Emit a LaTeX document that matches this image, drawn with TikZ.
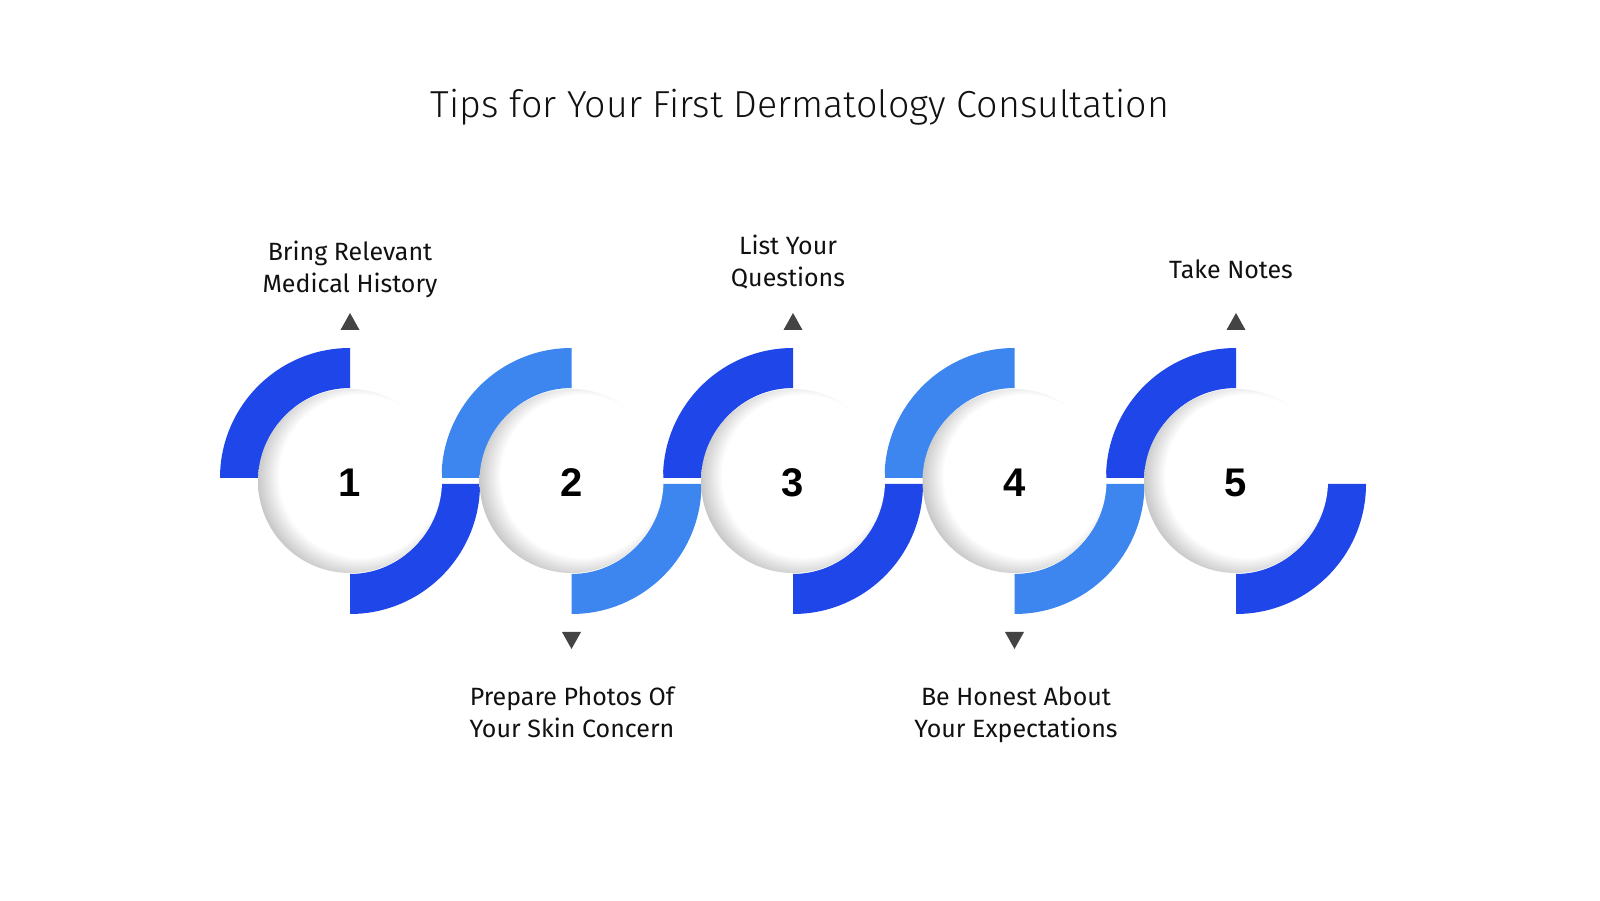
\documentclass[tikz,border=0pt]{standalone}
\usepackage{fontspec}
\setmainfont{Fira Sans}
\newfontfamily\titlefont{Fira Sans Light}
\newfontfamily\numfont{Liberation Sans}
\definecolor{dblue}{HTML}{1F46E8}
\definecolor{lblue}{HTML}{3D86F0}
\definecolor{trigray}{HTML}{444444}
\definecolor{ink}{HTML}{111111}
\pgfdeclareradialshading{diskshade}{\pgfpoint{5bp}{2.5bp}}{color(0bp)=(white); color(22bp)=(white); color(28bp)=(black!24); color(50bp)=(black!24)}
\begin{document}
\begin{tikzpicture}[x=0.5pt,y=0.5pt,
  disk/.style={circle, shading=diskshade, minimum size=92pt, inner sep=0pt,
    text height=16pt, text depth=0pt,
    font=\numfont\bfseries\fontsize{20pt}{24pt}\selectfont, text=black},
  lab/.style={font=\fontsize{12.5pt}{16pt}\selectfont, align=center, inner sep=0pt, text=ink},
  tri/.style={fill=trigray}]
\useasboundingbox (0,0) rectangle (1600,900);
\fill[white] (0,0) rectangle (1600,900);
% arcs
\foreach \i/\c in {0/dblue,1/lblue,2/dblue,3/lblue,4/dblue}{
  \pgfmathsetmacro\cx{350+221.5*\i}
  \fill[\c] (\cx,552) arc[start angle=90,end angle=180,radius=130] -- ++(40,0)
     arc[start angle=180,end angle=90,radius=90] -- cycle;
  \fill[\c] (\cx,286) arc[start angle=270,end angle=360,radius=130] -- ++(-40,0)
     arc[start angle=0,end angle=-90,radius=90] -- cycle;
}
% circles
\node[disk] (c1) at (350,419) {1};
\node[disk] (c2) at (571.5,419) {2};
\node[disk] (c3) at (793,419) {3};
\node[disk] (c4) at (1014.5,419) {4};
\node[disk] (c5) at (1236,419) {5};
% triangles
\foreach \cx in {350,793,1236}{
  \fill[tri] (\cx-9.5,570) -- (\cx+9.5,570) -- (\cx,587) -- cycle;}
\foreach \cx in {571.5,1014.5}{
  \fill[tri] (\cx-9.5,268) -- (\cx+9.5,268) -- (\cx,251) -- cycle;}
% labels
\node[lab] (t1) at (350,631) {Bring Relevant\\Medical History};
\node[lab] (t3) at (788,637.5) {List Your\\Questions};
\node[lab] (t5) at (1231,630.5) {Take Notes};
\node[lab] (t2) at (572,187.5) {Prepare Photos Of\\Your Skin Concern};
\node[lab] (t4) at (1016,185.5) {Be Honest About\\Your Expectations};
\node[font=\titlefont\fontsize{18.8pt}{22pt}\selectfont, anchor=base, inner sep=0pt, text=ink] (title) at (800,782) {Tips for Your First Dermatology Consultation};
\end{tikzpicture}
\end{document}
